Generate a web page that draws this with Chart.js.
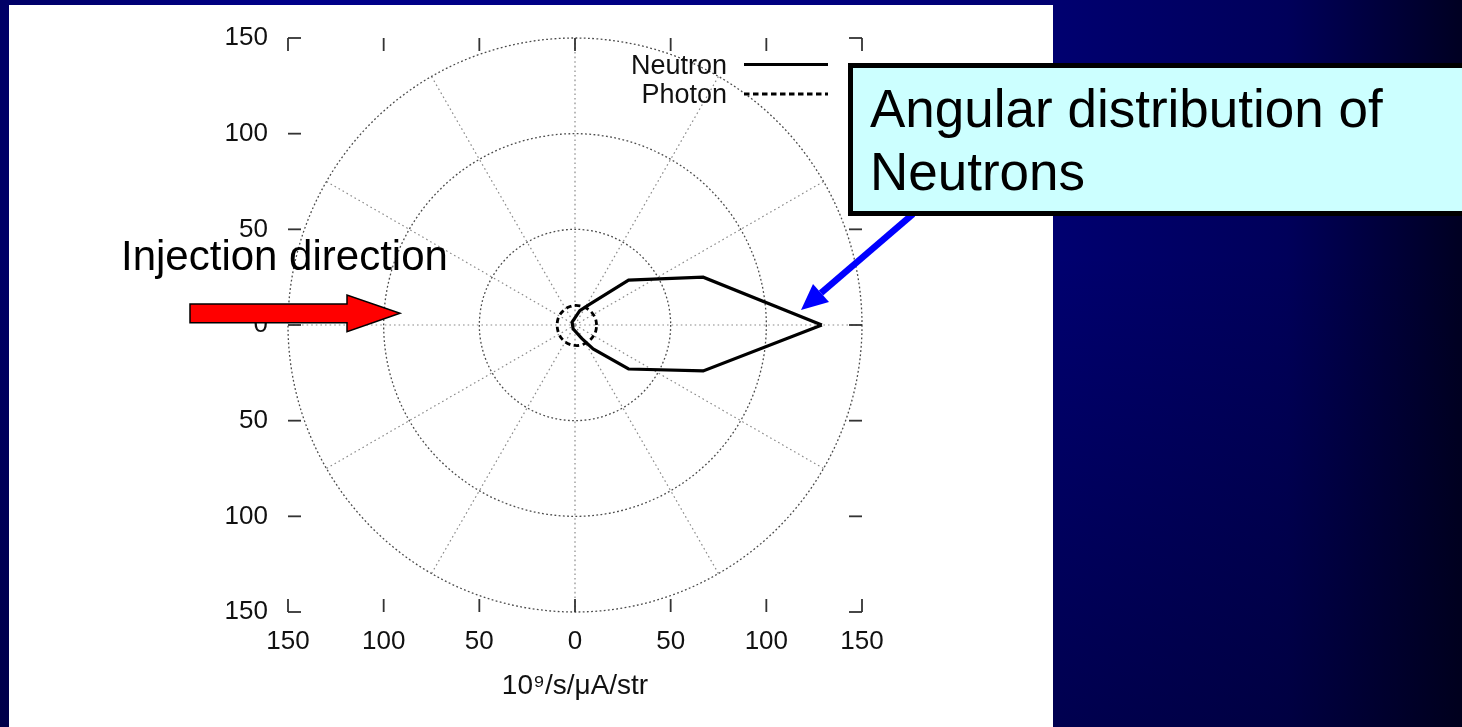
<!DOCTYPE html>
<html>
<head>
<meta charset="utf-8">
<title>Angular distribution of Neutrons</title>
<script src="https://cdn.jsdelivr.net/npm/chart.js@4.4.1/dist/chart.umd.min.js"></script>
<style>
  html, body { margin: 0; padding: 0; }
  body {
    width: 1462px;
    height: 727px;
    overflow: hidden;
    position: relative;
    font-family: 'Liberation Sans', Arial, sans-serif;
    background:
      linear-gradient(to bottom, rgba(0, 0, 20, 0) 35%, rgba(0, 0, 20, 0.35) 100%),
      linear-gradient(to right, #000066 0%, #00008a 20%, #000080 55%, #000070 72%, #00005a 88%, #000022 100%);
  }
  #panel { position: absolute; left: 9px; top: 5px; width: 1044px; height: 722px; background: #fff; }
  #chartBox { position: absolute; left: 0; top: 0; width: 1462px; height: 727px; }
  #notes { position: absolute; left: 0; top: 0; }
</style>
</head>
<body>
<div id="panel"></div>
<div id="chartBox"><canvas id="polarChart" width="1462" height="727"></canvas></div>
<svg id="notes" width="1462" height="727" xmlns="http://www.w3.org/2000/svg" font-family="'Liberation Sans', Arial, sans-serif">
  <!-- blue pointer to the neutron lobe -->
  <line x1="913" y1="214" x2="821" y2="293" stroke="#0000ff" stroke-width="6.5"/>
  <polygon points="801,310 813,284 829,302" fill="#0000ff"/>
  <!-- callout box -->
  <rect x="850.5" y="65.5" width="620" height="148" fill="#ccffff" stroke="#000" stroke-width="5"/>
  <text x="870" y="127" font-size="53" fill="#000">Angular distribution of</text>
  <text x="870" y="190" font-size="53" fill="#000">Neutrons</text>
  <!-- injection arrow -->
  <polygon points="190,304 347,304 347,295 400,313.3 347,331.7 347,322.7 190,322.7" fill="#ff0000" stroke="#000" stroke-width="1.5"/>
  <text x="121" y="270" font-size="42" fill="#000">Injection direction</text>
</svg>
<script>
// Neutron lobe (x, y in 10^9/s/uA/str)
const neutronX = [129, 67, 28, 8, 2.5, -1.5, -1, 3.5, 9.5, 28, 67, 129];
const neutronY = [0, 25, 23.5, 11, 7.5, 1.5, -2, -7, -12.5, -23, -24, 0];

// Photon, nearly a circle round the target (angle in degrees, radius)
const photonAngle = [0, 15, 30, 45, 60, 75, 90, 105, 120, 135, 150, 165, 180,
                     195, 210, 225, 240, 255, 270, 285, 300, 315, 330, 345, 360];
const photonR = [11.3, 11.2, 11.0, 10.8, 10.5, 10.3, 10.2, 10.0, 9.8, 9.6, 9.5, 9.4, 9.3,
                 9.4, 9.6, 9.9, 10.2, 10.5, 10.7, 10.9, 11.0, 11.1, 11.2, 11.3, 11.3];

const seriesNames = ['Neutron', 'Photon'];
const axisTicks = [-150, -100, -50, 0, 50, 100, 150];
const gridRadii = [50, 100, 150];
const gridSpokes = [0, 30, 60, 90, 120, 150, 180, 210, 240, 270, 300, 330];
const axisTitle = '10⁹/s/μA/str';

const FONT = "'Liberation Sans', Arial, sans-serif";

const neutronPoints = neutronX.map((v, i) => ({ x: v, y: neutronY[i] }));
const photonPoints = photonAngle.map((a, i) => ({
    x: photonR[i] * Math.cos(a * Math.PI / 180),
    y: photonR[i] * Math.sin(a * Math.PI / 180)
}));

// gnuplot style polar grid, inward ticks and legend
const polarFrame = {
    id: 'polarFrame',
    beforeDatasetsDraw(chart) {
        const { ctx, chartArea: area } = chart;
        const xs = chart.scales.x, ys = chart.scales.y;
        const cx = xs.getPixelForValue(0), cy = ys.getPixelForValue(0);
        const unit = xs.getPixelForValue(1) - cx;
        const rMax = gridRadii[gridRadii.length - 1] * unit;

        ctx.save();
        ctx.lineWidth = 1.2;
        ctx.strokeStyle = '#8a8a8a';
        ctx.setLineDash([1.6, 3]);
        gridSpokes.forEach(a => {
            const t = a * Math.PI / 180;
            ctx.beginPath();
            ctx.moveTo(cx, cy);
            ctx.lineTo(cx + rMax * Math.cos(t), cy - rMax * Math.sin(t));
            ctx.stroke();
        });

        ctx.strokeStyle = '#4a4a4a';
        ctx.lineWidth = 1.3;
        ctx.setLineDash([1.8, 2.4]);
        gridRadii.forEach(r => {
            ctx.beginPath();
            ctx.arc(cx, cy, r * unit, 0, Math.PI * 2);
            ctx.stroke();
        });

        ctx.setLineDash([]);
        ctx.strokeStyle = '#333';
        ctx.lineWidth = 1.8;
        const len = 13;
        const seg = (x1, y1, x2, y2) => { ctx.beginPath(); ctx.moveTo(x1, y1); ctx.lineTo(x2, y2); ctx.stroke(); };
        xs.ticks.forEach(t => {
            const px = xs.getPixelForValue(t.value);
            seg(px, area.bottom, px, area.bottom - len);
            seg(px, area.top, px, area.top + len);
        });
        ys.ticks.forEach(t => {
            const py = ys.getPixelForValue(t.value);
            seg(area.left, py, area.left + len, py);
            seg(area.right, py, area.right - len, py);
        });
        ctx.restore();
    },
    afterDatasetsDraw(chart) {
        const { ctx, chartArea: area } = chart;
        ctx.save();
        ctx.font = '27px ' + FONT;
        ctx.fillStyle = '#111';
        ctx.textAlign = 'right';
        ctx.textBaseline = 'alphabetic';
        chart.data.datasets.forEach((ds, i) => {
            const rowY = area.top + 26.5 + i * 29.5;
            ctx.fillText(ds.label, area.right - 135, rowY + 9);
            ctx.strokeStyle = ds.borderColor;
            ctx.lineWidth = ds.borderWidth;
            ctx.setLineDash(ds.borderDash || []);
            ctx.beginPath();
            ctx.moveTo(area.right - 118, rowY);
            ctx.lineTo(area.right - 34, rowY);
            ctx.stroke();
        });
        ctx.restore();
    }
};

const ctx = document.getElementById('polarChart').getContext('2d');
const polarChart = new Chart(ctx, {
    type: 'scatter',
    data: {
        datasets: [
            { label: seriesNames[0], data: neutronPoints, showLine: true, borderColor: '#000', borderWidth: 3.2, pointRadius: 0, tension: 0 },
            { label: seriesNames[1], data: photonPoints, showLine: true, borderColor: '#000', borderWidth: 2.8, borderDash: [5.5, 3.5], pointRadius: 0, tension: 0.4 }
        ]
    },
    options: {
        responsive: false,
        animation: false,
        layout: { padding: { left: 0, top: 38, right: 600, bottom: 0 } },
        plugins: {
            legend: { display: false },
            tooltip: { enabled: false }
        },
        scales: {
            x: {
                type: 'linear', min: -150, max: 150,
                afterBuildTicks: s => { s.ticks = axisTicks.map(v => ({ value: v })); },
                afterFit: s => { s.height = 115; },
                grid: { display: false, drawTicks: false },
                border: { display: false },
                ticks: { color: '#111', font: { family: FONT, size: 26 }, padding: 14, callback: v => Math.abs(v) },
                title: { display: true, text: axisTitle, color: '#111', font: { family: FONT, size: 28 }, padding: { top: 24, bottom: 24 } }
            },
            y: {
                type: 'linear', min: -150, max: 150,
                afterBuildTicks: s => { s.ticks = axisTicks.map(v => ({ value: v })); },
                afterFit: s => { s.width = 288; },
                grid: { display: false, drawTicks: false },
                border: { display: false },
                ticks: { color: '#111', font: { family: FONT, size: 26 }, padding: 20, callback: v => Math.abs(v) }
            }
        }
    },
    plugins: [polarFrame]
});
</script>
</body>
</html>
